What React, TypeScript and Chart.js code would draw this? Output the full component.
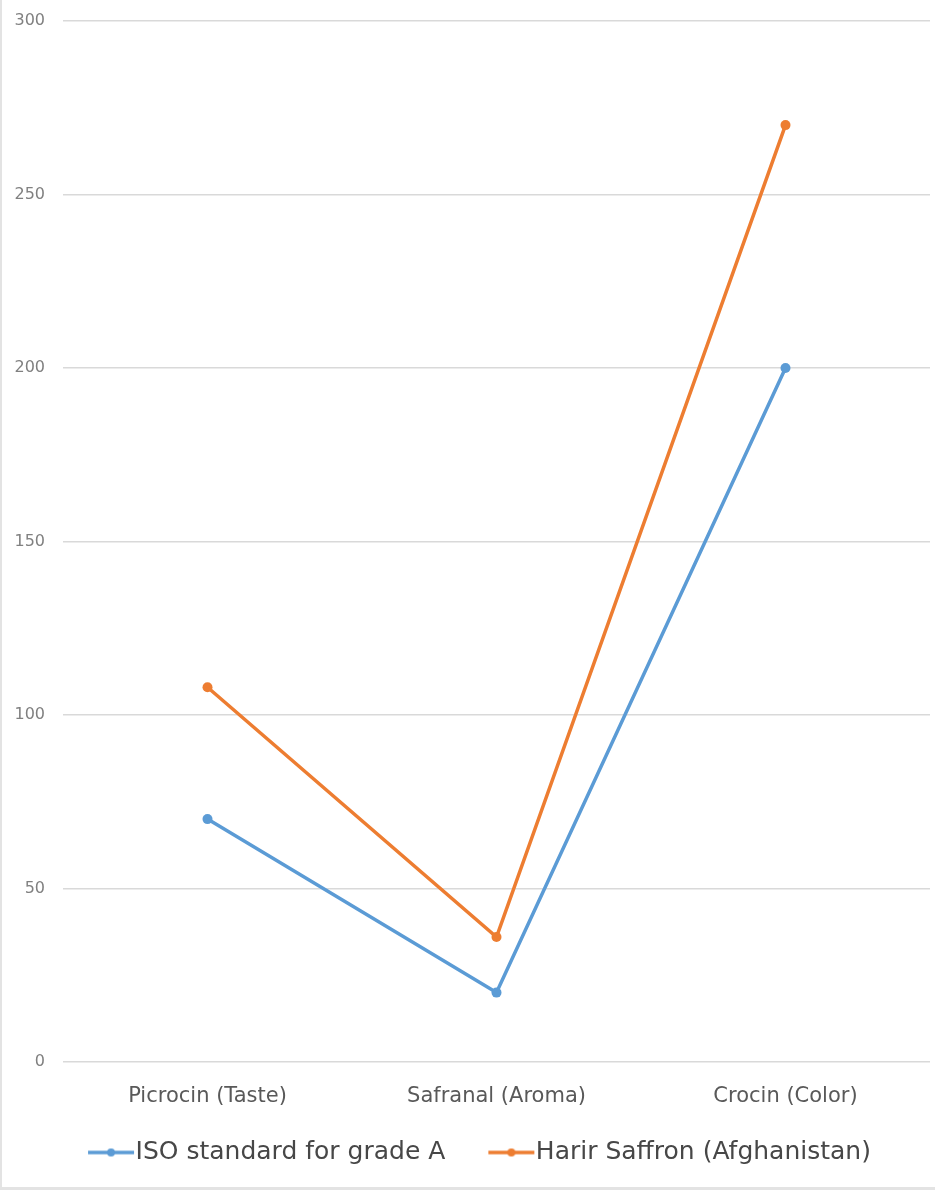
import React, { useEffect, useRef } from "react";
import { Chart, registerables } from "chart.js";

Chart.register(...registerables);

const categories = ["Picrocin (Taste)", "Safranal (Aroma)", "Crocin (Color)"];
const isoValues = [70, 20, 200];
const harirValues = [108, 36, 270];
const seriesNames = ["ISO standard for grade A", "Harir Saffron (Afghanistan)"];
const seriesColors = ["#5b9bd5", "#ed7d31"];
const yTicks = [0, 50, 100, 150, 200, 250, 300];

function makeIcon(color: string): HTMLCanvasElement {
  const c = document.createElement("canvas");
  c.width = 84;
  c.height = 12;
  const ctx = c.getContext("2d")!;
  ctx.strokeStyle = color;
  ctx.lineWidth = 3.5;
  ctx.beginPath();
  ctx.moveTo(37, 6);
  ctx.lineTo(83, 6);
  ctx.stroke();
  ctx.fillStyle = color;
  ctx.beginPath();
  ctx.arc(60, 6, 4, 0, Math.PI * 2);
  ctx.fill();
  return c;
}

export default function App() {
  const ref = useRef<HTMLCanvasElement | null>(null);
  useEffect(() => {
    if (!ref.current) return;
    const icons = seriesColors.map(makeIcon);
    const chart = new Chart(ref.current, {
      type: "line",
      data: {
        labels: categories,
        datasets: [
          {
            label: seriesNames[0],
            data: isoValues,
            borderColor: seriesColors[0],
            backgroundColor: seriesColors[0],
            borderWidth: 3.5,
            pointRadius: 5,
            pointBorderWidth: 0,
            tension: 0,
          },
          {
            label: seriesNames[1],
            data: harirValues,
            borderColor: seriesColors[1],
            backgroundColor: seriesColors[1],
            borderWidth: 3.5,
            pointRadius: 5,
            pointBorderWidth: 0,
            tension: 0,
          },
        ],
      },
      options: {
        responsive: false,
        animation: false,
        layout: { padding: { top: 21, left: 0, right: 1, bottom: 15 } },
        scales: {
          x: {
            offset: true,
            grid: { display: false, drawTicks: false },
            border: { display: false },
            ticks: {
              padding: 22,
              color: "#595959",
              font: { family: "DejaVu Sans", size: 21 },
            },
            afterFit: (s: any) => {
              s.height = 60;
            },
          },
          y: {
            min: 0,
            max: 300,
            afterBuildTicks: (s: any) => {
              s.ticks = yTicks.map((v) => ({ value: v }));
            },
            grid: { color: "#d9d9d9", lineWidth: 1.5, drawTicks: false },
            border: { display: false },
            ticks: {
              padding: 18,
              color: "#808080",
              font: { family: "DejaVu Sans", size: 16 },
            },
            afterFit: (s: any) => {
              s.width = 63;
              s.paddingTop = 10;
              s.paddingBottom = 10;
            },
          },
        },
        plugins: {
          legend: {
            position: "bottom",
            labels: {
              usePointStyle: true,
              pointStyleWidth: 60,
              padding: 18,
              color: "#474747",
              font: { family: "DejaVu Sans", size: 25 },
              generateLabels: (ch: any) => {
                const items = Chart.defaults.plugins.legend.labels.generateLabels(ch);
                items.forEach((it: any, i: number) => {
                  it.pointStyle = icons[i];
                });
                return items;
              },
            },
          },
          tooltip: { enabled: false },
        },
      },
    });
    return () => chart.destroy();
  }, []);
  return (
    <div style={{ position: "absolute", left: 0, top: 0, width: 935, height: 1190, background: "#fff" }}>
      <canvas ref={ref} width={935} height={1190} style={{ display: "block" }} />
      <div
        style={{
          position: "absolute",
          left: 0,
          top: 0,
          width: 933,
          height: 1187,
          borderLeft: "2px solid #e3e3e3",
          borderBottom: "3px solid #e3e3e3",
          pointerEvents: "none",
        }}
      />
    </div>
  );
}
